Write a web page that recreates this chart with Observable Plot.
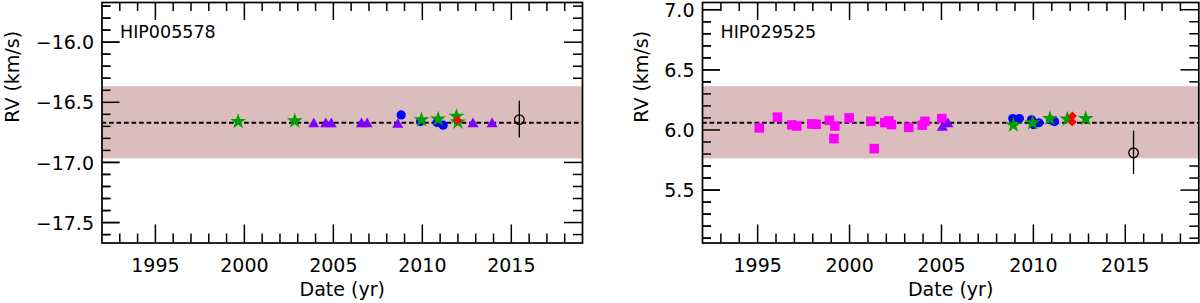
<!DOCTYPE html>
<html><head><meta charset="utf-8">
<script src="https://cdn.jsdelivr.net/npm/d3@7"></script>
<script src="https://cdn.jsdelivr.net/npm/@observablehq/plot@0.6"></script>
<style>
html,body{margin:0;padding:0;background:#fff;}
#wrap{position:relative;width:1200px;height:303px;overflow:hidden;}
.panel{position:absolute;top:0;}
</style></head><body><div id="wrap"></div>
<script>
// ---------- shared axis data ----------
const xDomain = [1992, 2019];
const xMajor = [1995, 2000, 2005, 2010, 2015];
const xMinor = [1993, 1994, 1996, 1997, 1998, 1999, 2001, 2002, 2003, 2004, 2006, 2007, 2008, 2009, 2011, 2012, 2013, 2014, 2016, 2017, 2018];
const xLabel = "Date (yr)";
const yLabel = "RV (km/s)";
const bandHalf = 0.3;
const yHalfRange = 1.0;

// ---------- panel A: HIP005578 ----------
const A_name = "HIP005578";
const A_mean = -16.67;
const A_yMajor = [-17.5, -17.0, -16.5, -16.0];
const A_squares = [];
const A_triangles = [
  [2003.9, -16.68], [2004.57, -16.68], [2004.88, -16.68], [2006.58, -16.68],
  [2006.9, -16.68], [2008.62, -16.685], [2012.85, -16.68], [2013.92, -16.68]
];
const A_circles = [[2008.81, -16.605], [2009.9, -16.66], [2010.83, -16.667], [2011.17, -16.69]];
const A_stars = [
  [1999.65, -16.66], [2002.83, -16.655], [2009.95, -16.645], [2010.89, -16.64],
  [2011.92, -16.617], [2012.0, -16.665]
];
const A_diamonds = [[2011.99, -16.65]];
const A_open = [[2015.45, -16.644, 0.153]];

// ---------- panel B: HIP029525 ----------
const B_name = "HIP029525";
const B_mean = 6.06;
const B_yMajor = [5.5, 6.0, 6.5, 7.0];
const B_squares = [
  [1995.09, 6.017], [1996.08, 6.106], [1996.86, 6.042], [1997.13, 6.033], [1997.95, 6.05],
  [1998.18, 6.047], [1998.9, 6.08], [1999.2, 6.033], [1999.15, 5.928], [1999.98, 6.1],
  [2001.16, 6.072], [2001.34, 5.845], [2001.92, 6.061], [2002.14, 6.075], [2002.28, 6.045],
  [2003.22, 6.022], [2003.95, 6.04], [2004.1, 6.072], [2005.02, 6.095]
];
const B_triangles = [[2005.05, 6.02], [2005.35, 6.05]];
const B_circles = [
  [2008.88, 6.095], [2009.24, 6.095], [2009.9, 6.085], [2010.0, 6.045],
  [2010.3, 6.06], [2010.95, 6.083], [2011.15, 6.07]
];
const B_stars = [[2008.91, 6.04], [2009.96, 6.06], [2010.9, 6.095], [2011.85, 6.09], [2012.85, 6.095]];
const B_diamonds = [[2012.12, 6.117], [2012.12, 6.067]];
const B_open = [[2015.45, 5.81, 0.18]];

// ---------- drawing ----------
const H = 303, MT = 2, MB = 60.5;
const plotH = H - MT - MB;
const FONT = "DejaVu Sans";

function yMinorTicks(lo, hi, majors) {
  const out = [];
  for (let i = Math.ceil(lo * 10 - 1e-6); i <= Math.floor(hi * 10 + 1e-6); i++) {
    const v = i / 10;
    if (!majors.some(m => Math.abs(m - v) < 1e-6)) out.push(v);
  }
  return out;
}

function panel(p) {
  const yDomain = [p.mean - yHalfRange, p.mean + yHalfRange];
  const plotW = p.width - p.ml - p.mr;
  const yMinor = yMinorTicks(yDomain[0], yDomain[1], p.yMajor);
  const X = d => d[0], Y = d => d[1];
  const MAJ = 18, MIN = 9, TW = 1.5;
  const tickSet = (vals, len) => [
    Plot.tickX(vals, {x: d => d, insetTop: plotH - len, strokeWidth: TW}),
    Plot.tickX(vals, {x: d => d, insetBottom: plotH - len, strokeWidth: TW}),
  ];
  const tickSetY = (vals, len) => [
    Plot.tickY(vals, {y: d => d, insetRight: plotW - len, strokeWidth: TW}),
    Plot.tickY(vals, {y: d => d, insetLeft: plotW - len, strokeWidth: TW}),
  ];
  return Plot.plot({
    width: p.width, height: H,
    marginLeft: p.ml, marginRight: p.mr, marginTop: MT, marginBottom: MB,
    style: {fontFamily: FONT, fontSize: "19px", background: "transparent", overflow: "visible"},
    x: {domain: xDomain, axis: null},
    y: {domain: yDomain, axis: null},
    marks: [
      ...tickSet(xMajor, MAJ), ...tickSet(xMinor, MIN),
      ...tickSetY(p.yMajor, MAJ), ...tickSetY(yMinor, MIN),
      Plot.rect([0], {x1: () => xDomain[0], x2: () => xDomain[1],
        y1: () => p.mean - bandHalf, y2: () => p.mean + bandHalf, fill: "#dcbdbd"}),
      Plot.tickY(p.yMajor, {y: d => d, insetRight: plotW - MAJ, strokeWidth: TW}),
      Plot.tickY(yMinor, {y: d => d, insetRight: plotW - MIN, strokeWidth: TW}),
      Plot.ruleY([p.mean], {strokeDasharray: "4.7,2.8", strokeWidth: 1.8}),
      Plot.dot(p.squares, {x: X, y: Y, symbol: "square", r: 5.4, fill: "#ff00ff"}),
      Plot.dot(p.triangles, {x: X, y: Y, symbol: "triangle", r: 4.1, fill: "#8000ff"}),
      Plot.dot(p.circles, {x: X, y: Y, symbol: "circle", r: 4.6, fill: "#0000ff"}),
      Plot.dot(p.stars, {x: X, y: Y, symbol: "star", r: 5, fill: "#00a000"}),
      Plot.dot(p.diamonds, {x: X, y: Y, symbol: "diamond2", r: 4, fill: "#ff0000"}),
      Plot.ruleX(p.open, {x: X, y1: d => d[1] - d[2], y2: d => d[1] + d[2], stroke: "black", strokeWidth: 1.3}),
      Plot.dot(p.open, {x: X, y: Y, r: 4.8, fill: "none", stroke: "black", strokeWidth: 1.3}),
      Plot.frame({strokeWidth: 1.7}),
      Plot.text(xMajor, {x: d => d, text: d => String(d), frameAnchor: "bottom", dy: 22.5, lineAnchor: "middle"}),
      Plot.text(p.yMajor, {y: d => d, text: d => d3.format(".1f")(d), frameAnchor: "left", dx: -8, dy: 1, textAnchor: "end", lineAnchor: "middle"}),
      Plot.text([xLabel], {text: d => d, frameAnchor: "bottom", dy: 47, lineAnchor: "middle"}),
      Plot.text([yLabel], {text: d => d, frameAnchor: "left", dx: p.ylabDx, rotate: -90, lineAnchor: "middle"}),
      Plot.text([p.name], {text: d => d, frameAnchor: "top-left", dx: 18, dy: 30, textAnchor: "start", lineAnchor: "middle", fontSize: 17.5}),
    ]
  });
}

const wrap = document.getElementById("wrap");
const panels = [
  {left: 0, width: 600, ml: 101.5, mr: 18, ylabDx: -89, name: A_name, mean: A_mean, yMajor: A_yMajor,
   squares: A_squares, triangles: A_triangles, circles: A_circles, stars: A_stars, diamonds: A_diamonds, open: A_open},
  {left: 600, width: 600, ml: 102, mr: 1.7, ylabDx: -61, name: B_name, mean: B_mean, yMajor: B_yMajor,
   squares: B_squares, triangles: B_triangles, circles: B_circles, stars: B_stars, diamonds: B_diamonds, open: B_open},
];
for (const p of panels) {
  const el = panel(p);
  el.classList.add("panel");
  el.style.left = p.left + "px";
  wrap.appendChild(el);
}
</script>
</body></html>
